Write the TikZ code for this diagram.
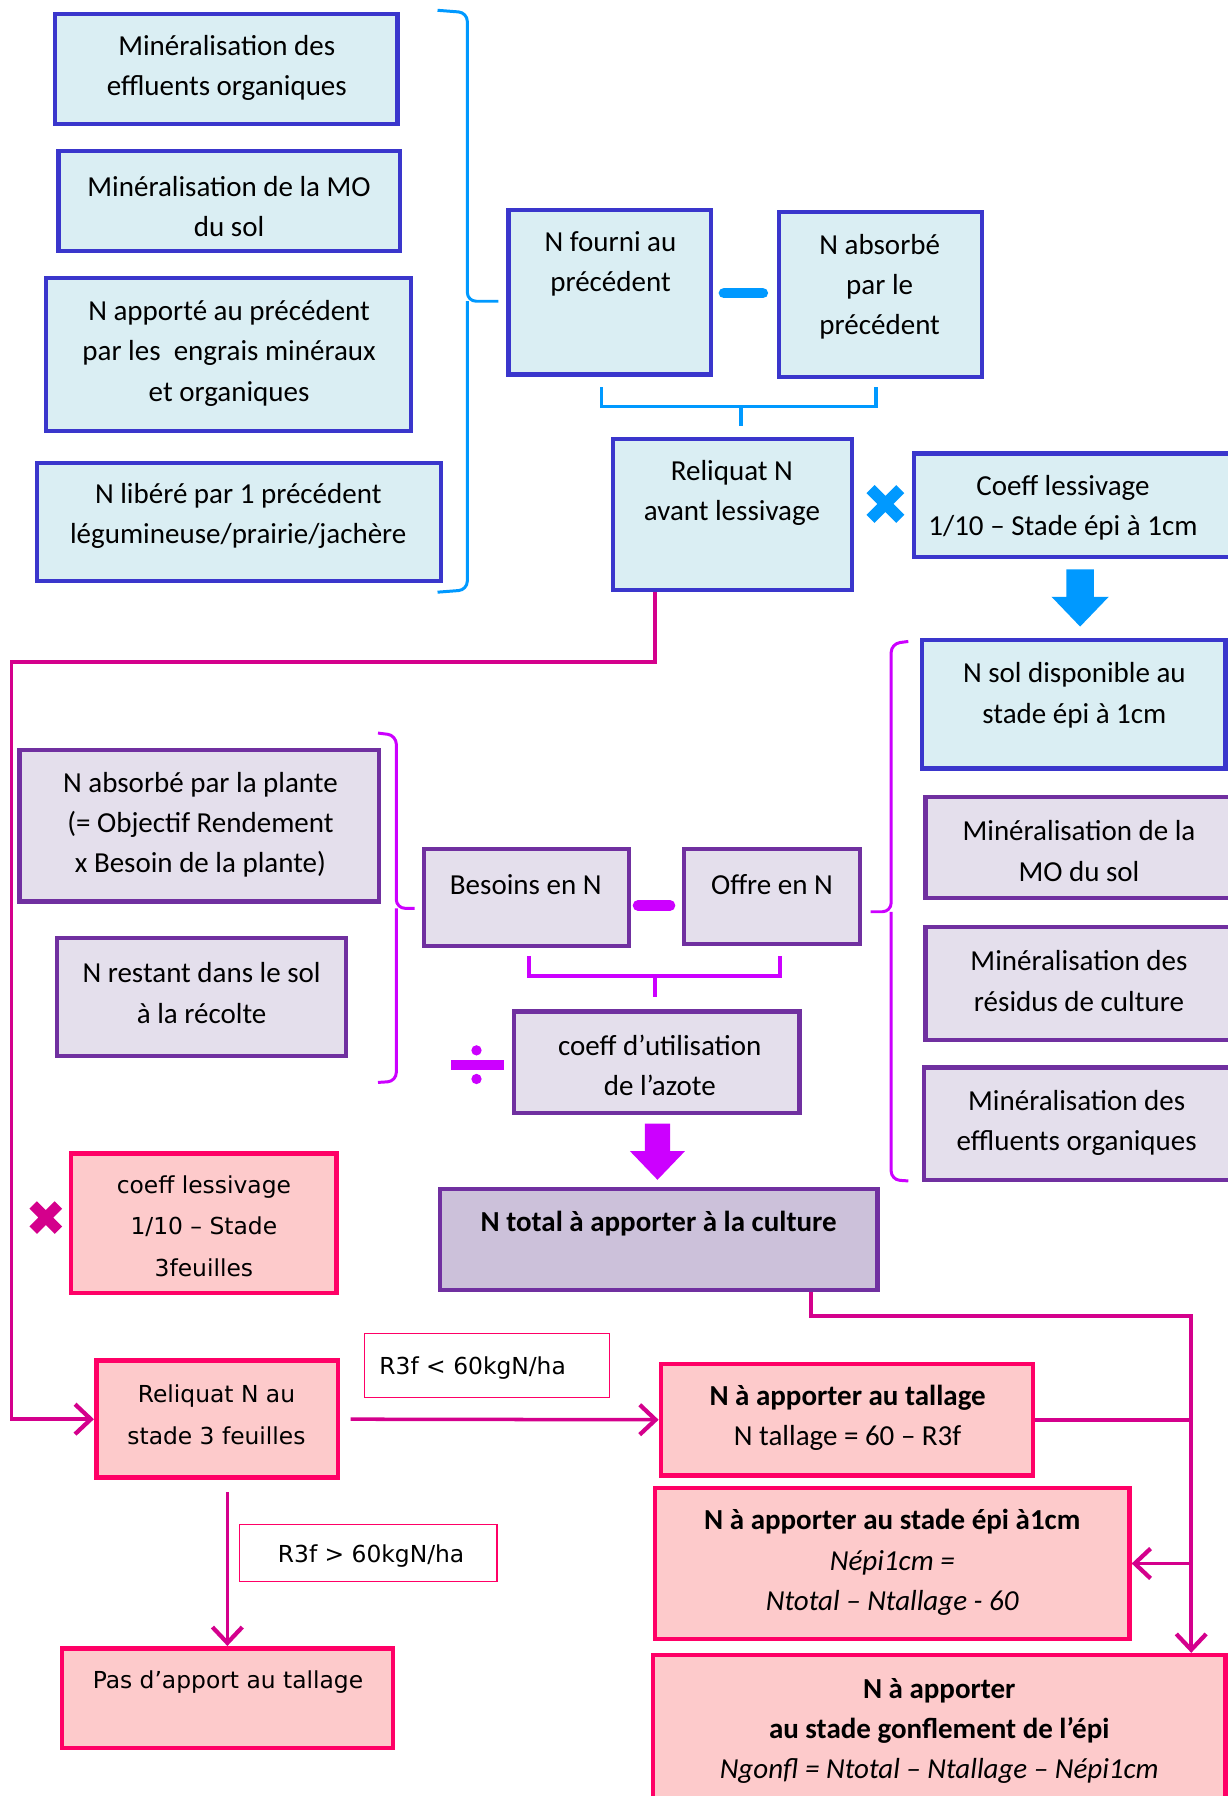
\documentclass[tikz,border=0pt]{standalone}
\usepackage{fontspec}
\setmainfont{Carlito}
\newfontfamily\lucida{DejaVu Sans}
\usetikzlibrary{fit,arrows.meta}

\definecolor{bleuFond}{HTML}{DAEEF3}
\definecolor{bleuBord}{HTML}{3A36CC}
\definecolor{bleuVif}{HTML}{0099FF}
\definecolor{violetFond}{HTML}{E4DFEC}
\definecolor{violetBord}{HTML}{7030A0}
\definecolor{violetTotal}{HTML}{CCC1DA}
\definecolor{violetVif}{HTML}{CC00FF}
\definecolor{roseFond}{HTML}{FDCACB}
\definecolor{roseBord}{HTML}{FF0066}
\definecolor{roseTrait}{HTML}{D4008C}

\begin{document}
\begin{tikzpicture}[x=0.02291cm, y=-0.02291cm,
    txt/.style={align=center, inner sep=0, yshift=-1.3pt, font=\fontsize{16.5}{22.8}\selectfont},
    luc/.style={align=center, inner sep=0, yshift=-1pt, font=\lucida\fontsize{13.3}{23.5}\selectfont},
    bleu/.style={draw=bleuBord, fill=bleuFond, line width=2.4pt, inner sep=0},
    violet/.style={draw=violetBord, fill=violetFond, line width=2.4pt, inner sep=0},
    rose/.style={draw=roseBord, fill=roseFond, line width=2.6pt, inner sep=0},
    etiq/.style={draw=roseBord, fill=white, line width=0.7pt, inner sep=0},
    accolade/.style={line width=1.7pt, rounded corners=5pt},
    crochet/.style={line width=2pt},
    lien/.style={draw=roseTrait, line width=2pt},
    fleche/.style={lien, -{Straight Barb[length=9pt,width=17pt,line width=2.4pt]}}]
        \useasboundingbox (0,0) rectangle (1072,1568);
        \clip (0,0) rectangle (1072,1568);

        % 上部：前茬
        \node[bleu, fit={(48,12) (347,108)}] (minEff1) {};
        \node[txt] (minEff1t) at (198,57.5) {Minéralisation des\\effluents organiques};
        \node[bleu, fit={(51,132) (349,219)}] (minMO1) {};
        \node[txt] (minMO1t) at (200,178) {Minéralisation de la MO\\du sol};
        \node[bleu, fit={(40,243) (359,376)}] (apporte) {};
        \node[txt] (apportet) at (200,306.5) {N apporté au précédent\\par les \ engrais minéraux\\et organiques};
        \node[bleu, fit={(32,404) (385,507)}] (libere) {};
        \node[txt] (liberet) at (208,448.5) {N libéré par 1 précédent\\légumineuse/prairie/jachère};
        \draw[accolade, bleuVif] (382,9) -- (408,11) -- (408,263) -- (435,263);
        \draw[accolade, bleuVif] (408,263) -- (408,515) -- (382,517);

        \node[bleu, fit={(444,183) (621,327)}] (fourni) {};
        \node[txt] (fournit) at (533,228.5) {N fourni au\\précédent};
        \node[bleu, fit={(680,185) (857,329)}] (absPrec) {};
        \node[txt] (absPrect) at (768,248.5) {N absorbé\\par le\\précédent};
        \draw[bleuVif, line width=6pt, line cap=round] (632,256) -- (666,256);
        \draw[crochet, bleuVif] (525,338) -- (525,355) -- (765,355) -- (765,338);
        \draw[crochet, bleuVif] (647,355) -- (647,372);

        \node[bleu, fit={(535,383) (744,515)}] (relAvant) {};
        \node[txt] (relAvantt) at (639,428.5) {Reliquat N\\avant lessivage};
        \draw[bleuVif, line width=6.5pt] (760,427) -- (786,453) (760,453) -- (786,427);
        \node[bleu, fit={(798,396) (1076,486)}] (coeffEpi) {};
        \node[txt] (coeffEpit) at (928,441) {Coeff lessivage\\1/10 – Stade épi à 1cm};
        \fill[bleuVif] (931,497) -- (955,497) -- (955,521) -- (968,521) -- (943,547)
            -- (918,521) -- (931,521) -- cycle;

        % 中部：需求与供给
        \node[bleu, fit={(805,559) (1070,671)}] (solDispo) {};
        \node[txt] (solDispot) at (938,605) {N sol disponible au\\stade épi à 1cm};
        \node[violet, fit={(808,696) (1076,784)}] (minMO2) {};
        \node[txt] (minMO2t) at (942,741) {Minéralisation de la\\MO du sol};
        \node[violet, fit={(808,809) (1076,908)}] (minRes) {};
        \node[txt] (minRest) at (942,854.5) {Minéralisation des\\résidus de culture};
        \node[violet, fit={(807,932) (1076,1030)}] (minEff2) {};
        \node[txt] (minEff2t) at (940,978) {Minéralisation des\\effluents organiques};
        \draw[accolade, violetVif] (793,560) -- (778,562) -- (778,796) -- (760,796);
        \draw[accolade, violetVif] (778,796) -- (778,1030) -- (793,1031);

        \node[violet, fit={(17,655) (331,787)}] (absPlante) {};
        \node[txt] (absPlantet) at (175,718) {N absorbé par la plante\\(= Objectif Rendement\\x Besoin de la plante)};
        \node[violet, fit={(50,819) (302,922)}] (restant) {};
        \node[txt] (restantt) at (176,865) {N restant dans le sol\\à la récolte};
        \draw[accolade, violetVif] (330,640) -- (346,642) -- (346,793) -- (362,793);
        \draw[accolade, violetVif] (346,793) -- (346,944) -- (330,945);

        \node[violet, fit={(370,741) (549,826)}] (besoins) {};
        \node[txt] (besoinst) at (459,770) {Besoins en N};
        \node[violet, fit={(597,741) (751,824)}] (offre) {};
        \node[txt] (offret) at (674,770) {Offre en N};
        \draw[violetVif, line width=6pt, line cap=round] (557,790.5) -- (585,790.5);
        \draw[crochet, violetVif] (462,835) -- (462,852) -- (681,852) -- (681,835);
        \draw[crochet, violetVif] (572,852) -- (572,870);

        \node[violet, fit={(449,883) (698,972)}] (coeffUtil) {};
        \node[txt] (coeffUtilt) at (576,928) {coeff d’utilisation\\de l’azote};
        \fill[violetVif] (394,925) rectangle (440,934);
        \fill[violetVif] (416,917) circle (4.5) (416,942) circle (4.5);
        \fill[violetVif] (563,981) -- (585,981) -- (585,1005) -- (598,1005) -- (574,1030)
            -- (550,1005) -- (563,1005) -- cycle;
        \node[violet, fill=violetTotal, fit={(384,1038) (766,1126)}] (nTotal) {};
        \node[txt, font=\bfseries\fontsize{16.5}{22.8}\selectfont] (nTotalt) at (575,1066) {N total à apporter à la culture};

        % 下部：施肥
        \node[rose, fit={(62,1007) (294,1129)}] (coeff3f) {};
        \node[luc] (coeff3ft) at (178,1069) {coeff lessivage\\1/10 – Stade\\3feuilles};
        \draw[roseTrait, line width=6pt] (29,1052) -- (51,1074) (29,1074) -- (51,1052);
        \node[rose, fit={(84,1188) (295,1290)}] (rel3f) {};
        \node[luc] (rel3ft) at (189,1233.5) {Reliquat N au\\stade 3 feuilles};
        \node[etiq, fit={(318,1164) (532,1220)}] (condInf) {};
        \node[luc, anchor=west] (condInft) at (331,1193) {R3f < 60kgN/ha};
        \node[etiq, fit={(209,1331) (434,1381)}] (condSup) {};
        \node[luc] (condSupt) at (324,1357) {R3f > 60kgN/ha};
        \node[rose, fit={(54,1439) (343,1526)}] (pasApport) {};
        \node[luc] (pasApportt) at (199,1467) {Pas d’apport au tallage};

        \node[rose, fit={(577,1191) (902,1288)}] (tallage) {};
        \node[txt] (tallaget) at (740,1236) {\textbf{N à apporter au tallage}\\N tallage = 60 – R3f};
        \node[rose, fit={(572,1299) (986,1431)}] (epi) {};
        \node[txt] (epit) at (779,1362) {\textbf{N à apporter au stade épi à1cm}\\\textit{Népi1cm =}\\\textit{Ntotal – Ntallage - 60}};
        \node[rose, fit={(570,1445) (1070,1600)}] (gonfl) {};
        \node[txt] (gonflt) at (820,1509) {\textbf{N à apporter}\\\textbf{au stade gonflement de l’épi}\\\textit{Ngonfl = Ntotal – Ntallage – Népi1cm}};

        % 连线
        \coordinate (c1) at (572,578);
        \coordinate (c2) at (10,578);
        \coordinate (c3) at (708,1149);
        \coordinate (c4) at (1040,1149);
        \draw[fleche] (c1 |- relAvant.south) -- (c1) -- (c2) |- (rel3f.west);
        \draw[fleche, shorten <=6pt] (rel3f.east) -- (tallage.west);
        \draw[fleche, shorten <=7pt] (pasApport.north |- rel3f.south) -- (pasApport.north);
        \draw[fleche] (c3 |- nTotal.south) -- (c3) -- (c4) -- (c4 |- gonfl.north);
        \draw[lien] (tallage.east) -- (c4 |- tallage.east);
        \draw[fleche] (c4 |- epi.east) -- (epi.east);
\end{tikzpicture}
\end{document}
